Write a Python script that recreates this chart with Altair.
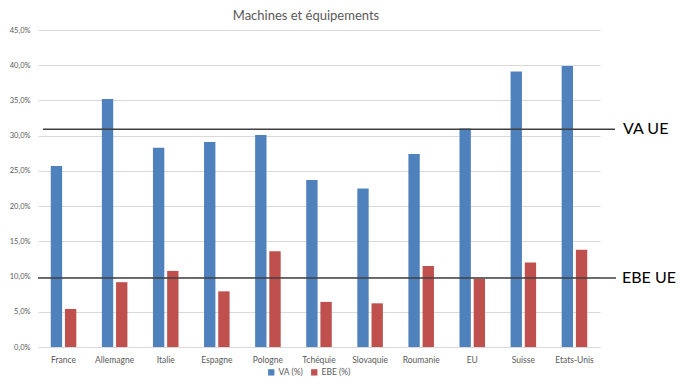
import altair as alt
import pandas as pd

countries = ["France", "Allemagne", "Italie", "Espagne", "Pologne", "Tchéquie",
             "Slovaquie", "Roumanie", "EU", "Suisse", "Etats-Unis"]
va = [25.7, 35.2, 28.3, 29.1, 30.1, 23.7, 22.5, 27.4, 31.0, 39.1, 39.9]
ebe = [5.4, 9.2, 10.8, 7.9, 13.6, 6.4, 6.2, 11.5, 9.7, 12.0, 13.8]
series = ["VA (%)", "EBE (%)"]
colors = ["#4F81BD", "#C0504D"]
ref_labels = ["VA UE", "EBE UE"]
ref_values = [30.9, 9.8]
y_ticks = [0, 0.05, 0.1, 0.15, 0.2, 0.25, 0.3, 0.35, 0.4, 0.45]
title_text = "Machines et équipements"

rows = []
for c, a, b in zip(countries, va, ebe):
    rows.append({"pays": c, "serie": series[0], "val": a / 100})
    rows.append({"pays": c, "serie": series[1], "val": b / 100})
df = pd.DataFrame(rows)
ref_df = pd.DataFrame({"label": ref_labels, "val": [v / 100 for v in ref_values]})

FONT = "Lato"
W, H = 562, 317

yscale = alt.Scale(domain=[0, 0.45], nice=False, zero=True)
yaxis = alt.Axis(values=y_ticks,
                 labelExpr="replace(format(datum.value, '.1%'), '.', ',')",
                 domain=False, ticks=False, gridColor="#d9d9d9",
                 labelOverlap=False, labelFlush=False,
                 labelFontSize=7.5, labelColor="#595959", labelFont=FONT,
                 labelPadding=8)

bars = alt.Chart(df).mark_bar().encode(
    x=alt.X("pays:N", sort=countries, title=None,
            scale=alt.Scale(paddingInner=0.5, paddingOuter=0.25),
            axis=alt.Axis(labelAngle=0, ticks=False, domainColor="#d9d9d9",
                          labelFontSize=8.5, labelColor="#595959", labelFont=FONT,
                          labelPadding=8, grid=False)),
    xOffset=alt.XOffset("serie:N", sort=series, scale=alt.Scale(paddingInner=0.2)),
    y=alt.Y("val:Q", scale=yscale, title=None, axis=yaxis),
    color=alt.Color("serie:N", sort=series,
                    scale=alt.Scale(domain=series, range=colors),
                    legend=alt.Legend(title=None, orient="none", direction="horizontal",
                                      legendX=229, legendY=338, symbolType="square",
                                      symbolSize=40, labelFontSize=8.5, labelFont=FONT,
                                      labelColor="#595959", columnPadding=6,
                                      labelOffset=3, symbolStrokeWidth=0)),
)

va_line = alt.Chart(ref_df.iloc[[0]]).mark_rule(color="#404040", strokeWidth=1.5).encode(
    y=alt.Y("val:Q", scale=yscale, title=None, axis=yaxis),
    x=alt.value(5), x2=alt.value(577),
)
ebe_line = alt.Chart(ref_df.iloc[[1]]).mark_rule(color="#404040", strokeWidth=1.5).encode(
    y=alt.Y("val:Q", scale=yscale, title=None, axis=yaxis),
    x=alt.value(0), x2=alt.value(578),
)
va_text = alt.Chart(ref_df.iloc[[0]]).mark_text(
    align="left", baseline="middle", fontSize=16, font=FONT, color="black"
).encode(y=alt.Y("val:Q", scale=yscale, title=None, axis=yaxis),
         x=alt.value(585), text="label:N")
ebe_text = alt.Chart(ref_df.iloc[[1]]).mark_text(
    align="left", baseline="middle", fontSize=16, font=FONT, color="black"
).encode(y=alt.Y("val:Q", scale=yscale, title=None, axis=yaxis),
         x=alt.value(584), text="label:N")

title = alt.Chart(pd.DataFrame({"t": [title_text]})).mark_text(
    align="center", baseline="middle", fontSize=13, font=FONT, color="#595959"
).encode(x=alt.value(268), y=alt.value(-14), text="t:N")

chart = alt.layer(bars, va_line, ebe_line, va_text, ebe_text, title).properties(
    width=W, height=H,
    autosize=alt.AutoSizeParams(type="none"),
    padding={"left": 30, "top": 22, "right": 76, "bottom": 29},
    background="white",
).configure_view(stroke=None)

chart.save("out.html", embed_options={"renderer": "svg", "actions": False})
